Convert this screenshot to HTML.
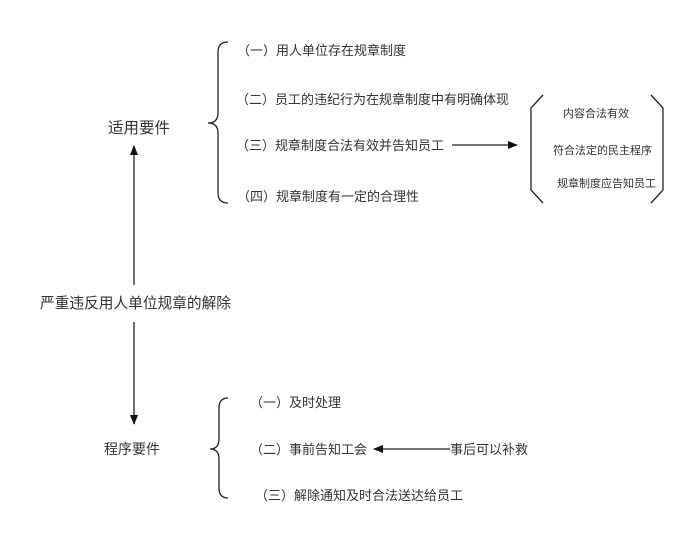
<!DOCTYPE html>
<html><head><meta charset="utf-8"><style>
html,body{margin:0;padding:0;background:#fff;}
svg{display:block;}
text{font-family:"Liberation Sans","Noto Sans CJK SC",sans-serif;fill:#333;}
</style></head><body>
<svg width="700" height="536" viewBox="0 0 700 536" xmlns="http://www.w3.org/2000/svg">
<defs><marker id="a" markerWidth="10" markerHeight="8" refX="9" refY="4" orient="auto" markerUnits="userSpaceOnUse"><path d="M0,0 L10,4 L0,8 Z" fill="#111"/></marker></defs>
<g fill="none" stroke="#222" stroke-width="1.3">
<path d="M228,42 Q218,42 218,52 L218,113 Q218,123 208,123 Q218,123 218,133 L218,193 Q218,203 228,203"/>
<path d="M228,398 Q219,398 219,408 L219,439 Q219,449 210,449 Q219,449 219,459 L219,488 Q219,498 228,498"/>
<path d="M543,95 L531,108 L531,190 L543,203"/>
<path d="M651,95 L663,108 L663,190 L651,203"/>
<line x1="452" y1="145" x2="517" y2="145" marker-end="url(#a)"/>
<line x1="450" y1="449" x2="374" y2="449" marker-end="url(#a)"/>
<line x1="134" y1="285" x2="134" y2="146" marker-end="url(#a)"/>
<line x1="134" y1="322" x2="134" y2="424" marker-end="url(#a)"/>
</g>
<text x="108" y="133" font-size="15.5">适用要件</text>
<text x="40" y="308" font-size="14.7">严重违反用人单位规章的解除</text>
<text x="104" y="454" font-size="14">程序要件</text>
<g font-size="13">
<text x="237" y="55">（一）用人单位存在规章制度</text>
<text x="236" y="104">（二）员工的违纪行为在规章制度中有明确体现</text>
<text x="236" y="150">（三）规章制度合法有效并告知员工</text>
<text x="237" y="201">（四）规章制度有一定的合理性</text>
<text x="250" y="407">（一）及时处理</text>
<text x="250" y="454">（二）事前告知工会</text>
<text x="255" y="500">（三）解除通知及时合法送达给员工</text>
<text x="450" y="454">事后可以补救</text>
</g>
<g font-size="11">
<text x="563" y="117">内容合法有效</text>
<text x="553" y="154">符合法定的民主程序</text>
<text x="557" y="187">规章制度应告知员工</text>
</g>
</svg>
</body></html>
